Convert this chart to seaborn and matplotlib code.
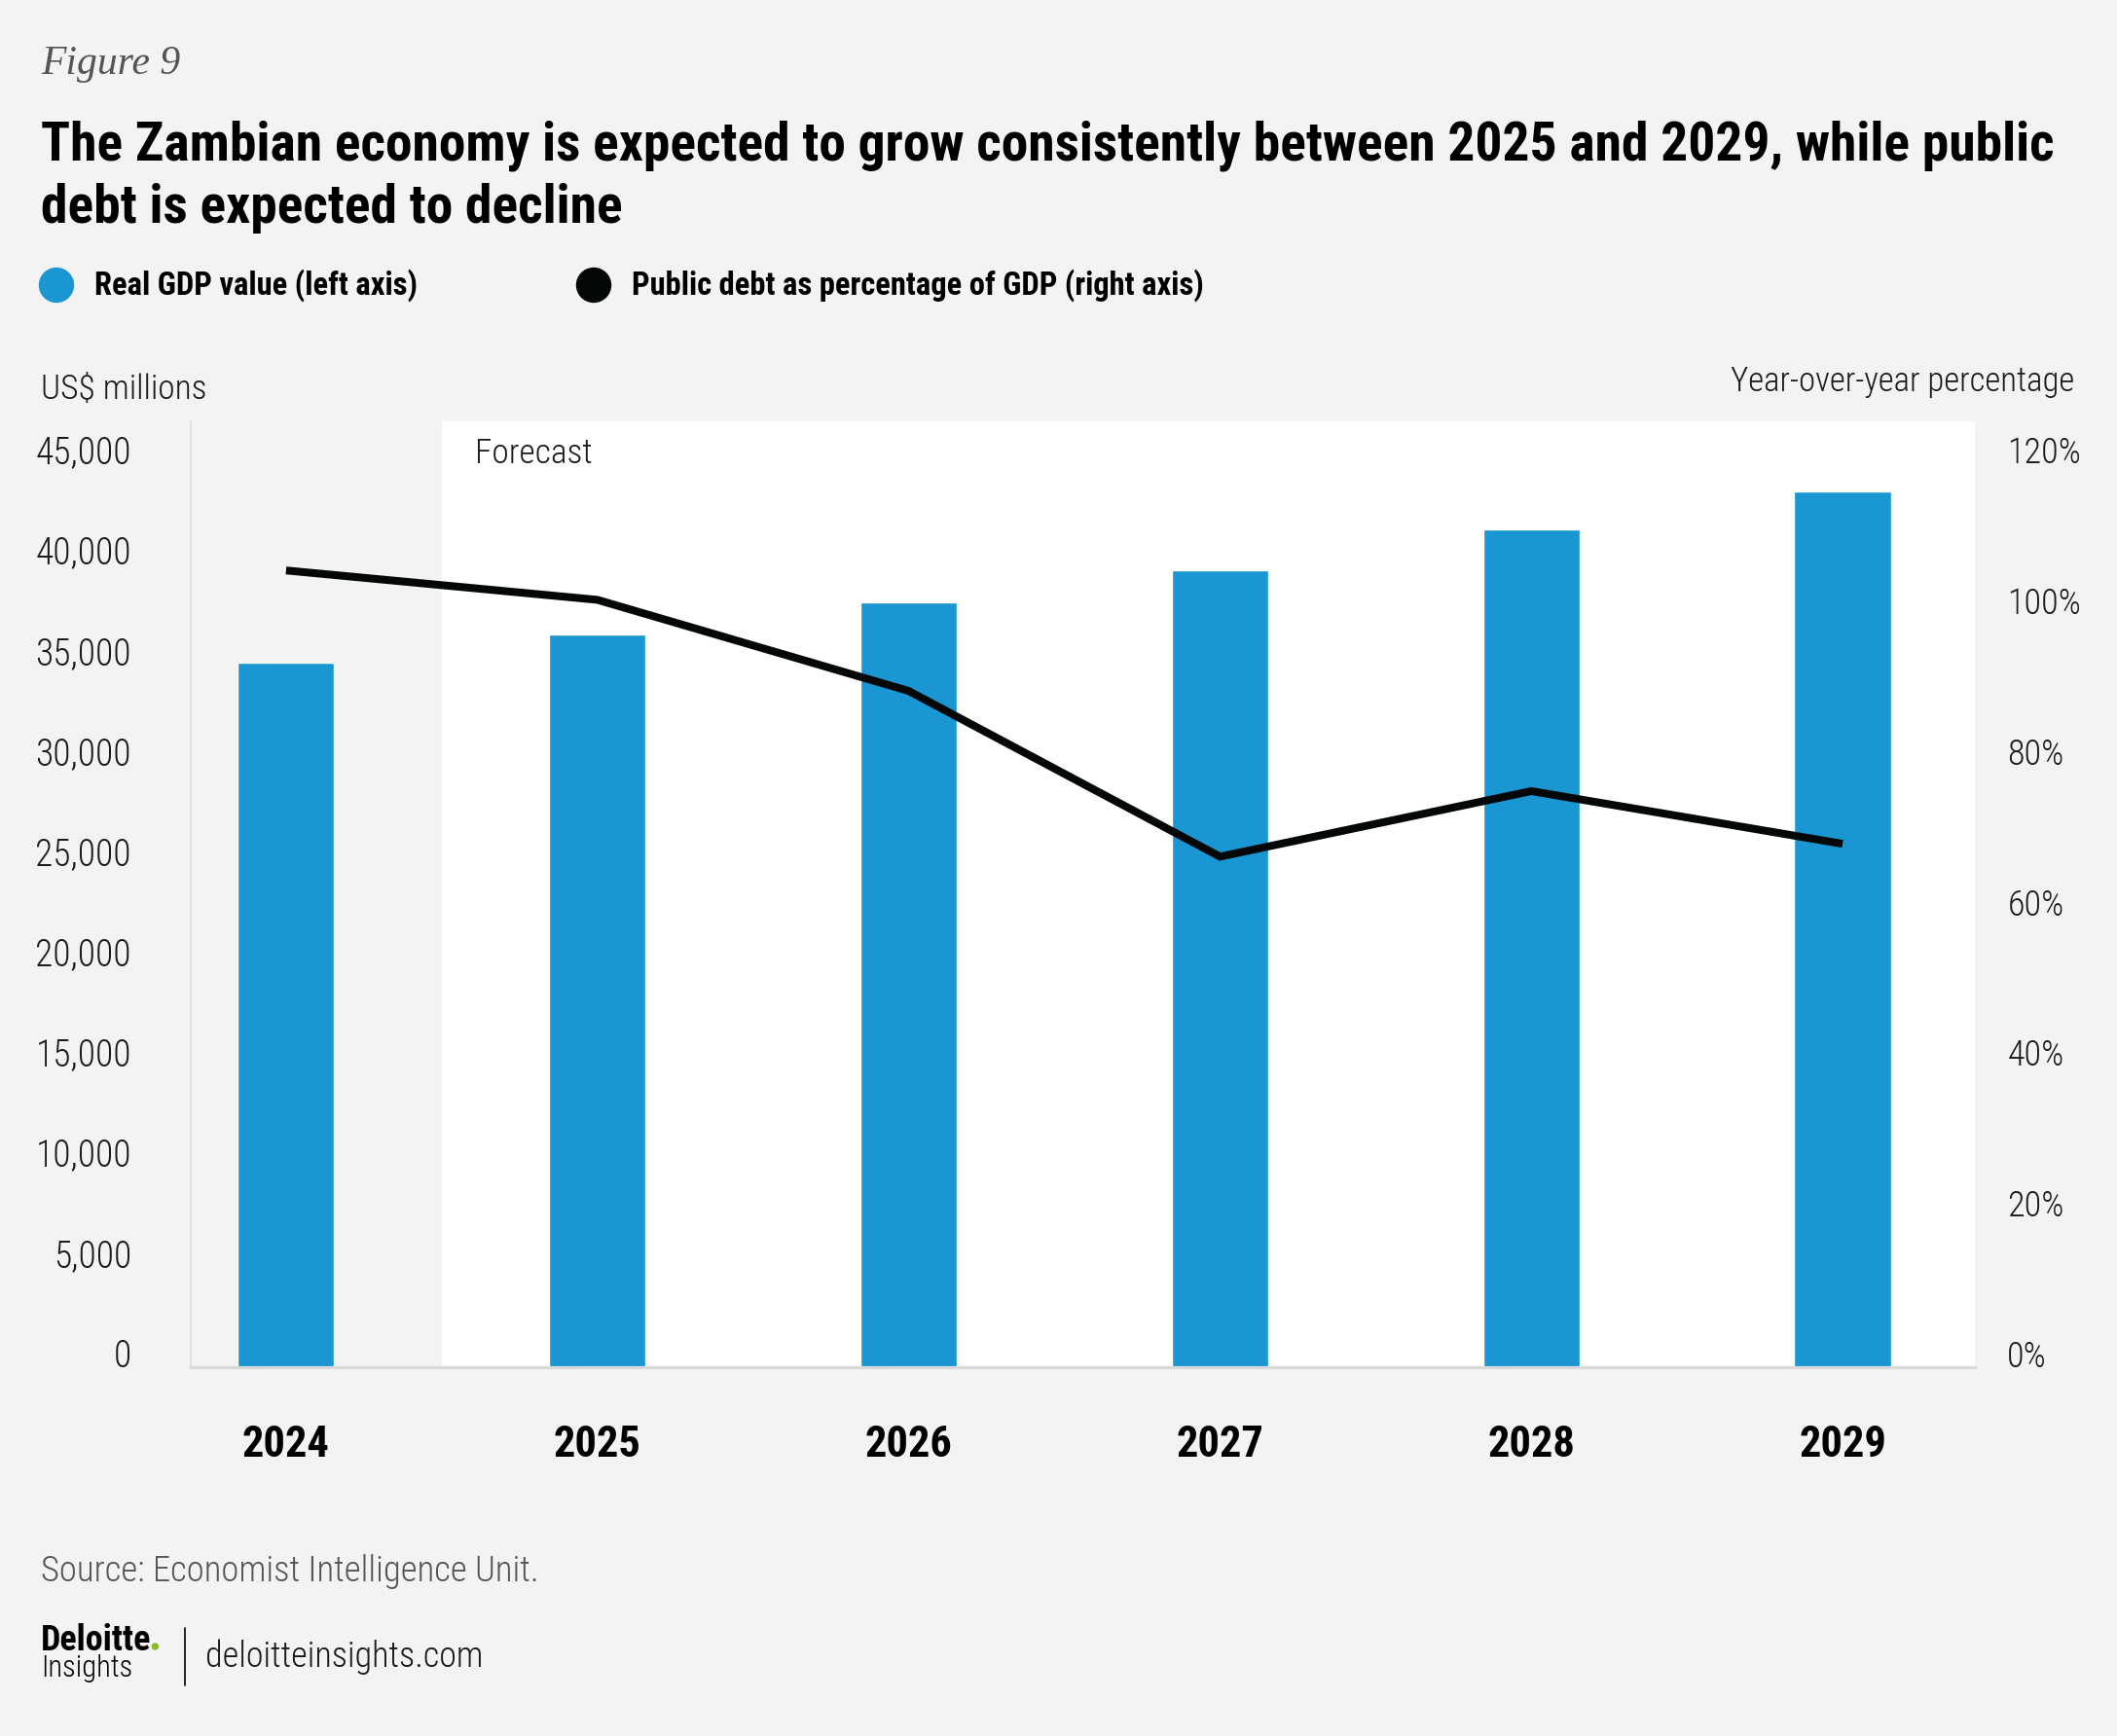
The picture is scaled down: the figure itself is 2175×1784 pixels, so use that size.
import numpy as np
import matplotlib
matplotlib.use('Agg')
import matplotlib.pyplot as plt
import seaborn as sns
from matplotlib import font_manager as fm
from matplotlib.patches import Ellipse
from matplotlib.lines import Line2D

# Data
years = ['2024', '2025', '2026', '2027', '2028', '2029']
gdp = [35100, 36500, 38100, 39700, 41700, 43600]        # US$ millions, left axis
debt = [105.8, 101.9, 89.8, 67.8, 76.5, 69.5]           # % of GDP, right axis
gdp_ticks = [0, 5000, 10000, 15000, 20000, 25000, 30000, 35000, 40000, 45000]
debt_ticks = [0, 20, 40, 60, 80, 100, 120]

BG = '#f3f3f3'
BLUE = '#1a96d3'
INK = '#040708'
GREY = '#555555'
TXT = '#1a1a1a'

sns.set_style('white')

available = {f.name for f in fm.fontManager.ttflist}


def pick(*names):
    for n in names:
        if n in available:
            return n
    return 'DejaVu Sans'


COND = pick('Roboto Condensed', 'Liberation Sans Narrow', 'Roboto', 'Liberation Sans')
SERIF = pick('Liberation Serif', 'DejaVu Serif')
plt.rcParams['font.family'] = [COND, 'DejaVu Sans']
LIGHT = 300

W, H = 2175, 1784
fig = plt.figure(figsize=(W / 100, H / 100), dpi=100, facecolor=BG)


def fx(x):
    return x / W


def fy(y):
    return 1 - y / H


# plot area in pixels: left 196, right 2029, top 433, baseline 1405
ax = fig.add_axes([fx(196), fy(1405), fx(2029) - fx(196), fy(433) - fy(1405)])
ax.set_facecolor(BG)

x_left, x_right = -0.306, 5.425
ax.axvspan(0.5, x_right, color='white', zorder=0, lw=0)

sns.barplot(x=years, y=gdp, color=BLUE, saturation=1, width=0.31,
            errorbar=None, ax=ax, zorder=2)

ax2 = ax.twinx()
sns.lineplot(x=np.arange(len(years)), y=debt, ax=ax2, color=INK, linewidth=5.8,
             solid_capstyle='butt', solid_joinstyle='miter')

ax.set_xlim(x_left, x_right)
ax.set_ylim(0, 47100)
ax2.set_ylim(0, 47100 / 45000 * 120)

ax.set_yticks(gdp_ticks)
ax.set_yticklabels([f'{v:,}' for v in gdp_ticks])
ax2.set_yticks(debt_ticks)
ax2.set_yticklabels([f'{v}%' for v in debt_ticks])
ax.set_xticks(range(len(years)))
ax.set_xticklabels(years)

for a in (ax, ax2):
    a.set_xlabel('')
    a.set_ylabel('')
    a.grid(False)
    for s in a.spines.values():
        s.set_visible(False)
    a.tick_params(length=0)
ax2.patch.set_visible(False)

ax.spines['left'].set_visible(True)
ax.spines['left'].set_color('#dcdcdc')
ax.spines['left'].set_linewidth(1.2)
ax.spines['bottom'].set_visible(True)
ax.spines['bottom'].set_color('#d9d9d9')
ax.spines['bottom'].set_linewidth(2.3)

ax.tick_params(axis='y', pad=44, labelsize=27, labelcolor=TXT)
ax2.tick_params(axis='y', pad=24, labelsize=26, labelcolor=TXT)
ax.tick_params(axis='x', pad=66, labelsize=32)
for lbl in ax.get_yticklabels() + ax2.get_yticklabels():
    lbl.set_va('baseline')
    lbl.set_fontweight(LIGHT)
for lbl in ax.get_xticklabels():
    lbl.set_va('baseline')
    lbl.set_fontweight('bold')
    lbl.set_color('black')

ax.text(fx(488 - 196) / (fx(2029) - fx(196)) * (x_right - x_left) + x_left, 45000,
        'Forecast', fontsize=25.5, fontweight=LIGHT, color=TXT, va='baseline',
        ha='left', zorder=3)

# header texts
fig.text(fx(42), fy(76), 'Figure 9', family=[SERIF, 'DejaVu Serif'], style='italic',
         fontsize=30, color=GREY, va='baseline')
t1 = fig.text(fx(42), fy(164),
              'The Zambian economy is expected to grow consistently between 2025 and 2029, while public',
              fontsize=39, fontweight='heavy', color='black', va='baseline')
t2 = fig.text(fx(42), fy(229), 'debt is expected to decline',
              fontsize=39, fontweight='heavy', color='black', va='baseline')

# fit title width to the reference
fig.canvas.draw()
r = fig.canvas.get_renderer()
wpx = t1.get_window_extent(r).width
size = min(39 * 2068 / wpx, 44)
t1.set_fontsize(size)
t2.set_fontsize(size)

# legend
for cx, col, lab in [(58, BLUE, 'Real GDP value (left axis)'),
                     (610, INK, 'Public debt as percentage of GDP (right axis)')]:
    fig.add_artist(Ellipse((fx(cx), fy(293)), 35 / W, 35 / H, color=col,
                           transform=fig.transFigure))
    fig.text(fx(cx + 39), fy(303), lab, fontsize=23.5, fontweight='bold',
             color='black', va='baseline')

fig.text(fx(42), fy(410), 'US$ millions', fontsize=25.5, fontweight=LIGHT, color=TXT,
         va='baseline')
fig.text(fx(2131), fy(402), 'Year-over-year percentage', fontsize=25, fontweight=LIGHT,
         color=TXT, va='baseline', ha='right')

# footer
fig.text(fx(42), fy(1625), 'Source: Economist Intelligence Unit.', fontsize=26.5,
         fontweight=LIGHT, color=GREY, va='baseline')
dl = fig.text(fx(42), fy(1696), 'Deloitte', fontsize=26, fontweight='bold',
              color='black', va='baseline')
fig.canvas.draw()
ext = dl.get_window_extent(fig.canvas.get_renderer())
fig.add_artist(Ellipse(((ext.x1 + 4) / W, fy(1692)), 6 / W, 6 / H, color='#86bc25',
                       transform=fig.transFigure))
fig.text(fx(42), fy(1723), 'Insights', fontsize=22, fontweight=LIGHT, color='black',
         va='baseline')
fig.add_artist(Line2D([fx(190), fx(190)], [fy(1673), fy(1732)], color='black',
                      lw=1.2, transform=fig.transFigure))
fig.text(fx(211), fy(1713), 'deloitteinsights.com', fontsize=26, fontweight=LIGHT,
         color=TXT, va='baseline')

fig.savefig('out.png', dpi=100, facecolor=BG)
